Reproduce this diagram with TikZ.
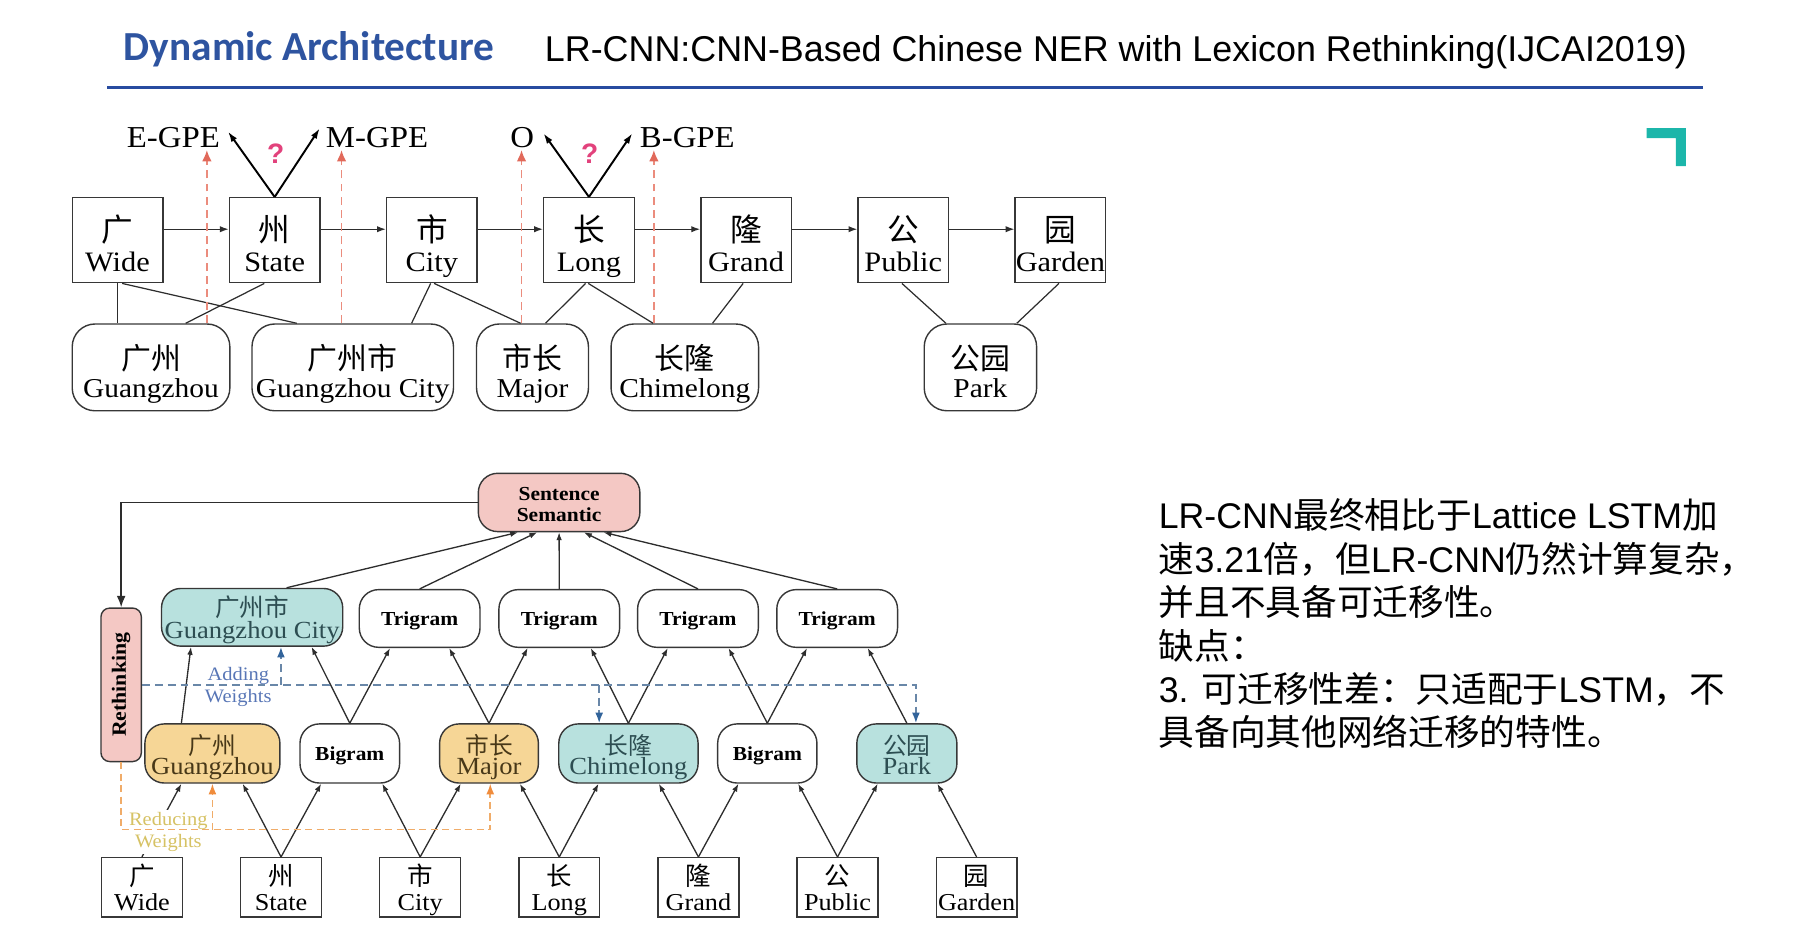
\documentclass[tikz,border=0pt]{standalone}
\usepackage{fontspec}
\usepackage{graphicx}
\usetikzlibrary{arrows.meta,calc}
\setmainfont{Liberation Serif}
\newfontfamily\tnr[FakeStretch=1.08]{Liberation Serif}
\newfontfamily\arial{Liberation Sans}
\newfontfamily\calib{Carlito}
\newfontfamily\zhf{Noto Sans CJK SC}
\newdimen\dpx \dpx=0.65661pt
\lineskiplimit=-100pt
\newcommand\zt[2]{{\zhf\fontsize{#1}{#1}\selectfont #2}}
\newcommand\twoA[2]{\rule{0pt}{22.9pt}\zt{18}{#1}\\#2\rule[-4pt]{0pt}{4pt}}
\newcommand\twoB[2]{\rule{0pt}{22.5pt}\zt{17}{#1}\\#2\rule[-4pt]{0pt}{4pt}}
\newcommand\twoC[2]{\rule{0pt}{15.55pt}\zt{14.5}{#1}\\#2\rule[-3.5pt]{0pt}{3.5pt}}
\newcommand\twoD[2]{\rule{0pt}{16.3pt}\zt{13.5}{#1}\\#2\rule[-4pt]{0pt}{4pt}}
\newcommand\twoE[2]{\rule{0pt}{15.4pt}\zt{14}{#1}\\#2\rule[-4pt]{0pt}{4pt}}
\definecolor{bordc}{RGB}{55,55,55}
\definecolor{linec}{RGB}{45,45,45}
\definecolor{titleblue}{RGB}{46,84,160}
\definecolor{rulec}{RGB}{40,75,160}
\definecolor{tealmark}{RGB}{28,182,170}
\definecolor{pinkq}{RGB}{226,66,124}
\definecolor{reddash}{RGB}{235,140,125}
\definecolor{redhead}{RGB}{225,105,90}
\definecolor{pinkfill}{RGB}{244,200,196}
\definecolor{tealfill}{RGB}{184,225,222}
\definecolor{orangefill}{RGB}{246,214,150}
\definecolor{tealtext}{RGB}{45,78,82}
\definecolor{orangetext}{RGB}{72,56,24}
\definecolor{bluedash}{RGB}{105,135,168}
\definecolor{bluehead}{RGB}{50,100,155}
\definecolor{orangedash}{RGB}{240,172,105}
\definecolor{orangehead}{RGB}{240,140,60}
\definecolor{addtext}{RGB}{88,118,182}
\definecolor{redutext}{RGB}{214,194,100}
\tikzset{
  bx/.style={draw=bordc, line width=0.8pt, inner sep=0pt, align=center},
  sqA/.style={bx, minimum width=78.5*\dpx, minimum height=73.7*\dpx, font=\tnr\fontsize{16}{16.9}\selectfont},
  rdB/.style={bx, rounded corners=13pt, minimum height=75.2*\dpx, font=\tnr\fontsize{15.5}{16}\selectfont},
  sqC/.style={bx, minimum width=70*\dpx, minimum height=51.4*\dpx, font=\tnr\fontsize{13.8}{14.05}\selectfont},
  lowD/.style={bx, rounded corners=11pt, minimum height=51.2*\dpx, font=\tnr\fontsize{14}{11.3}\selectfont},
  upE/.style={bx, rounded corners=11pt, minimum height=50*\dpx, font=\tnr\fontsize{14}{12.2}\selectfont},
  gramf/.style={font=\tnr\bfseries\fontsize{11.3}{13}\selectfont, fill=white, text depth=0pt},
  tealn/.style={fill=tealfill, text=tealtext},
  orgn/.style={fill=orangefill, text=orangetext},
  lab/.style={inner sep=0pt, anchor=base, font=\tnr\fontsize{17.3}{20}\selectfont},
  qm/.style={inner sep=0pt, font=\arial\bfseries\fontsize{16}{18}\selectfont, text=pinkq},
  harrow/.style={draw=linec, line width=0.7pt, -{Latex[length=5pt,width=3.6pt]}},
  thinl/.style={draw=linec, line width=0.7pt},
  redd/.style={draw=reddash, line width=1pt, dash pattern=on 4.5pt off 3pt, -{Latex[length=6.5pt,width=5.5pt,color=redhead]}},
  barrow/.style={draw=black, line width=1.1pt, -{Latex[length=6pt,width=3.8pt]}},
  sarr/.style={draw=linec, line width=0.75pt, -{Latex[length=4.5pt,width=3.2pt]}},
  bigarr/.style={draw=linec, line width=0.9pt, -{Latex[length=6.5pt,width=5pt]}},
  bdash/.style={draw=bluedash, line width=1pt, dash pattern=on 4.5pt off 2.8pt},
  barr/.style={-{Latex[length=6pt,width=4.5pt,color=bluehead]}},
  odash/.style={draw=orangedash, line width=0.9pt, dash pattern=on 4pt off 2.5pt},
  oarr/.style={-{Latex[length=6pt,width=4.5pt,color=orangehead]}},
}
\begin{document}
\begin{tikzpicture}[x=0.023077cm,y=-0.023077cm]
\useasboundingbox (0,0) rectangle (1560,814.67);
% ---------- header ----------
\node[anchor=base west, inner sep=0pt, font=\calib\bfseries\fontsize{23.5}{28}\selectfont, text=titleblue] (ttl) at (107,52) {Dynamic Architecture};
\node[anchor=base west, inner sep=0pt, font=\arial\fontsize{20.4}{24}\selectfont] (sub) at (472,53.5) {LR-CNN:CNN-Based Chinese NER with Lexicon Rethinking(IJCAI2019)};
\draw[rulec, line width=1.6pt] (93,76) -- (1476,76);
\fill[tealmark] (1427,111) -- (1461,111) -- (1461,144) -- (1452.3,144) -- (1452.3,119.7) -- (1427,119.7) -- cycle;
% ---------- top diagram ----------
\node[sqA] (t0) at (101.85,208.15) {\twoA{广}{Wide}};
\node[sqA] (t1) at (238.05,208.15) {\twoA{州}{State}};
\node[sqA] (t2) at (374.25,208.15) {\twoA{市}{City}};
\node[sqA] (t3) at (510.45,208.15) {\twoA{长}{Long}};
\node[sqA] (t4) at (646.65,208.15) {\twoA{隆}{Grand}};
\node[sqA] (t5) at (782.85,208.15) {\twoA{公}{Public}};
\node[sqA] (t6) at (919.05,208.15) {\twoA{园}{Garden}};
\node[rdB, minimum width=136.6*\dpx] (s0) at (130.9,318.4) {\twoB{广州}{Guangzhou}};
\node[rdB, minimum width=174.6*\dpx] (s1) at (305.7,318.4) {\twoB{广州市}{Guangzhou City}};
\node[rdB, minimum width=97*\dpx] (s2) at (461.5,318.4) {\twoB{市长}{Major}};
\node[rdB, minimum width=127.8*\dpx] (s3) at (593.5,318.4) {\twoB{长隆}{Chimelong}};
\node[rdB, minimum width=97.4*\dpx] (s4) at (849.7,318.4) {\twoB{公园}{Park}};
\foreach \a/\b in {t0/t1,t1/t2,t2/t3,t3/t4,t4/t5,t5/t6}
  \draw[harrow] ($(\a.east)+(0,-9.5)$) -- ($(\b.west)+(0,-9.5)$);
\draw[thinl] (t0.south) -- (t0.south |- s0.north);
\draw[thinl] ($(t0.south)+(4,0)$) -- ($(s1.north)+(-48.5,0)$);
\draw[thinl] ($(t1.south)+(-9,0)$) -- ($(s0.north)+(30,0)$);
\draw[thinl] ($(t2.south)+(-1,0)$) -- ($(s1.north)+(51,0)$);
\draw[thinl] ($(t2.south)+(2,0)$) -- ($(s2.north)+(-10.3,0)$);
\draw[thinl] ($(t3.south)+(-3,0)$) -- ($(s2.north)+(11.3,0)$);
\draw[thinl] ($(t3.south)+(-0.6,0)$) -- ($(s3.north)+(-27.5,0)$);
\draw[thinl] ($(t4.south)+(-2.6,0)$) -- ($(s3.north)+(24,0)$);
\draw[thinl] ($(t5.south)+(-1.2,0)$) -- ($(s4.north)+(-29.9,0)$);
\draw[thinl] ($(t6.south)+(-1.3,0)$) -- ($(s4.north)+(31.5,0)$);
% red dashed
\coordinate (r0s) at ($(s0.north)+(48.4,0)$);
\coordinate (r1s) at ($(s1.north)+(-9.7,0)$);
\coordinate (r2s) at ($(s2.north)+(-9.5,0)$);
\coordinate (r3s) at ($(s3.north)+(-26.8,0)$);
\coordinate (tipy) at (0,130);
\draw[redd] (r0s) -- (r0s |- tipy);
\draw[redd] (r1s) -- (r1s |- tipy);
\draw[redd] (r2s) -- (r2s |- tipy);
\draw[redd] (r3s) -- (r3s |- tipy);
% labels and black arrows
\node[lab] (lE) at (150.3,128) {E-GPE};
\node[lab] (lM) at (326.8,128) {M-GPE};
\node[lab] (lO) at (452.5,128) {O};
\node[lab] (lB) at (595.7,128) {B-GPE};
\coordinate (eg) at (197.6,114);
\coordinate (mg) at (277.1,111.2);
\coordinate (og) at (471,115.5);
\coordinate (bg) at (548,115.5);
\draw[barrow] (t1.north) -- (eg);
\draw[barrow] (t1.north) -- (mg);
\draw[barrow] (t3.north) -- (og);
\draw[barrow] (t3.north) -- (bg);
\node[qm] (q1) at (239,133) {?};
\node[qm] (q2) at (511,133) {?};
% ---------- bottom diagram ----------
\node[bx, rounded corners=11pt, fill=pinkfill, minimum width=140*\dpx, minimum height=50.5*\dpx, font=\tnr\bfseries\fontsize{11.3}{11.9}\selectfont] (ss) at (484.55,435.45) {\rule{0pt}{12.9pt}Sentence\\Semantic\rule[-3pt]{0pt}{3pt}};
\node[bx, rounded corners=5pt, fill=pinkfill, minimum width=35*\dpx, minimum height=133*\dpx, font=\tnr\bfseries\fontsize{11.5}{13}\selectfont] (rt) at (105,593.5) {\rotatebox{90}{Rethinking}};
% upper layer
\node[upE, tealn, minimum width=157*\dpx] (u0) at (218.5,535) {\twoE{广州市}{Guangzhou City}};
\node[upE, gramf, minimum width=104.6*\dpx] (u1) at (363.7,536) {Trigram};
\node[upE, gramf, minimum width=104.6*\dpx] (u2) at (484.7,536) {Trigram};
\node[upE, gramf, minimum width=104.6*\dpx] (u3) at (604.9,536) {Trigram};
\node[upE, gramf, minimum width=104.6*\dpx] (u4) at (725.55,536) {Trigram};
% lower layer
\node[lowD, orgn, minimum width=117*\dpx] (l0) at (184.1,653) {\twoD{广州}{Guangzhou}};
\node[lowD, gramf, minimum width=86.3*\dpx] (l1) at (303.15,653) {Bigram};
\node[lowD, orgn, minimum width=85.6*\dpx] (l2) at (423.8,653) {\twoD{市长}{Major}};
\node[lowD, tealn, minimum width=120.7*\dpx] (l3) at (544.65,653) {\twoD{长隆}{Chimelong}};
\node[lowD, gramf, minimum width=86*\dpx] (l4) at (665,653) {Bigram};
\node[lowD, tealn, minimum width=86.7*\dpx] (l5) at (785.95,653) {\twoD{公园}{Park}};
% words
\node[sqC] (w0) at (123,769) {\twoC{广}{Wide}};
\node[sqC] (w1) at (243.57,769) {\twoC{州}{State}};
\node[sqC] (w2) at (364.14,769) {\twoC{市}{City}};
\node[sqC] (w3) at (484.7,769) {\twoC{长}{Long}};
\node[sqC] (w4) at (605.3,769) {\twoC{隆}{Grand}};
\node[sqC] (w5) at (725.85,769) {\twoC{公}{Public}};
\node[sqC] (w6) at (846.4,769) {\twoC{园}{Garden}};
% words -> lower
\draw[sarr] (w0.north) -- ($(l0.south)+(-26.9,0)$);
\draw[sarr] (w1.north) -- ($(l0.south)+(26.2,0)$);
\draw[sarr] (w1.north) -- ($(l1.south)+(-24.85,0)$);
\draw[sarr] (w2.north) -- ($(l1.south)+(28.15,0)$);
\draw[sarr] (w2.north) -- ($(l2.south)+(-24.5,0)$);
\draw[sarr] (w3.north) -- ($(l2.south)+(26.8,0)$);
\draw[sarr] (w3.north) -- ($(l3.south)+(-25.95,0)$);
\draw[sarr] (w4.north) -- ($(l3.south)+(26.35,0)$);
\draw[sarr] (w4.north) -- ($(l4.south)+(-25,0)$);
\draw[sarr] (w5.north) -- ($(l4.south)+(26.7,0)$);
\draw[sarr] (w5.north) -- ($(l5.south)+(-25.25,0)$);
\draw[sarr] (w6.north) -- ($(l5.south)+(26.45,0)$);
% lower -> upper
\draw[sarr] ($(l0.north)+(-26.9,0)$) -- ($(u0.south)+(-53,0)$);
\draw[sarr] (l1.north) -- ($(u0.south)+(51.5,0)$);
\draw[sarr] (l1.north) -- ($(u1.south)+(-25.7,0)$);
\draw[sarr] (l2.north) -- ($(u1.south)+(25.6,0)$);
\draw[sarr] (l2.north) -- ($(u2.south)+(-27.4,0)$);
\draw[sarr] (l3.north) -- ($(u2.south)+(27.3,0)$);
\draw[sarr] (l3.north) -- ($(u3.south)+(-26.2,0)$);
\draw[sarr] (l4.north) -- ($(u3.south)+(26.5,0)$);
\draw[sarr] (l4.north) -- ($(u4.south)+(-26.15,0)$);
\draw[sarr] (l5.north) -- ($(u4.south)+(26.45,0)$);
% upper -> sentence
\draw[sarr] ($(u0.north)+(29.9,0)$) -- ($(ss.south)+(-35.5,0)$);
\draw[sarr] (u1.north) -- ($(ss.south)+(-19,0)$);
\draw[sarr] (u2.north) -- (ss.south);
\draw[sarr] (u3.north) -- ($(ss.south)+(21.5,0)$);
\draw[sarr] (u4.north) -- ($(ss.south)+(38.5,0)$);
\draw[bigarr] (ss.west) -| (rt.north);
% adding weights (blue)
\node[inner sep=0pt, align=center, text=addtext, font=\tnr\fontsize{10.8}{12.3}\selectfont] (addw) at (206.5,595.5) {Adding\\Weights};
\coordinate (bA) at ($(u0.south)+(25,0)$);
\coordinate (bC) at ($(l3.north)+(-25.35,0)$);
\draw[bdash, barr] (rt.east) -| ($(l5.north)+(7.85,0)$);
\draw[bdash, barr] (bC |- rt.east) -- (bC);
\draw[bdash, barr] (bA |- rt.east) -- (bA);
% reducing weights (orange)
\node[inner sep=1pt, align=center, fill=white, text=redutext, font=\tnr\fontsize{10.8}{13}\selectfont] (redw) at (145.9,721) {Reducing\\Weights};
\coordinate (oA) at (l0.south);
\coordinate (oB) at ($(l2.south)+(1.1,0)$);
\coordinate (oY) at (105,719);
\draw[odash, oarr] (rt.south) |- (oB |- oY) -- (oB);
\draw[odash, oarr] (oA |- oY) -- (oA);
% ---------- right text ----------
\node[anchor=north west, inner sep=0pt, align=left, font=\fontsize{20.3}{24.7}\selectfont] (txt) at (1004,427.5) {\rule{0pt}{20pt}{\arial LR-CNN}{\zhf 最终相比于}{\arial Lattice LSTM}{\zhf 加}\\
{\zhf 速}{\arial 3.21}{\zhf 倍，但}{\arial LR-CNN}{\zhf 仍然计算复杂，}\\
{\zhf 并且不具备可迁移性。}\\
{\zhf 缺点：}\\
{\arial 3. }{\zhf 可迁移性差：只适配于}{\arial LSTM}{\zhf ，不}\\
{\zhf 具备向其他网络迁移的特性。}};
\end{tikzpicture}
\end{document}
